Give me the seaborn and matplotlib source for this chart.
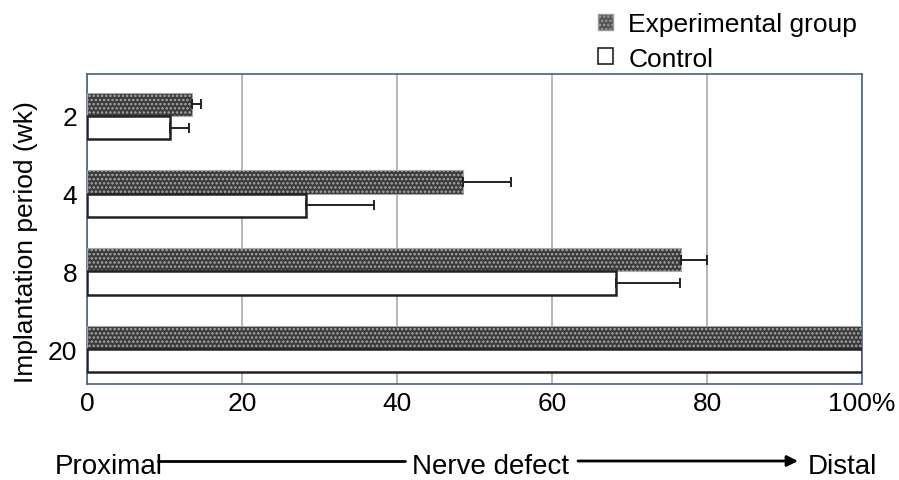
import numpy as np
import pandas as pd
import matplotlib
matplotlib.use("Agg")
import matplotlib.pyplot as plt
import seaborn as sns
from matplotlib.patches import Patch

# data
periods = ["2", "4", "8", "20"]
groups = ["Experimental group", "Control"]
exp_vals = [13.5, 48.5, 76.6, 100.0]
exp_err = [1.2, 6.2, 3.4, 0.0]
ctrl_vals = [10.7, 28.3, 68.3, 100.0]
ctrl_err = [2.5, 8.7, 8.2, 0.0]

df = pd.DataFrame({
    "period": periods * 2,
    "group": [groups[0]] * 4 + [groups[1]] * 4,
    "value": exp_vals + ctrl_vals,
})

sns.set_style("white")
plt.rcParams["font.family"] = ["Liberation Sans", "DejaVu Sans"]
plt.rcParams["text.color"] = "black"
plt.rcParams["xtick.color"] = "black"
plt.rcParams["ytick.color"] = "black"
plt.rcParams["axes.labelcolor"] = "black"
plt.rcParams["hatch.linewidth"] = 1.2

W, H = 899, 481
fig = plt.figure(figsize=(W / 100, H / 100), dpi=100)
ax = fig.add_axes([87 / W, 1 - 385 / H, 775 / W, 310 / H])

sns.barplot(data=df, y="period", x="value", hue="group", order=periods,
            hue_order=groups, orient="h", width=0.6, errorbar=None,
            palette=["#3a3a3a", "white"], ax=ax, legend=False, zorder=3)

n = len(periods)
for i, bar in enumerate(ax.patches[:2 * n]):
    if i < n:
        bar.set_facecolor("#3a3a3a")
        bar.set_edgecolor("#a8a8a8")
        bar.set_hatch("....")
        bar.set_linewidth(0.8)
    else:
        bar.set_facecolor("white")
        bar.set_edgecolor("#222222")
        bar.set_linewidth(1.8)

# one-sided error bars
exp_y = [b.get_y() + b.get_height() / 2 for b in ax.patches[:n]]
ctrl_y = [b.get_y() + b.get_height() / 2 for b in ax.patches[n:2 * n]]
for ys, vals, errs in [(exp_y, exp_vals, exp_err), (ctrl_y, ctrl_vals, ctrl_err)]:
    for y, v, e in zip(ys, vals, errs):
        if e > 0:
            ax.errorbar(v, y, xerr=[[0], [e]], fmt="none", ecolor="#222222",
                        elinewidth=1.4, capsize=3.5, capthick=1.4, zorder=4)

ax.set_xlim(0, 100)
ax.set_ylim(3.45, -0.54)
ax.set_xticks([0, 20, 40, 60, 80, 100])
ax.set_xticklabels(["0", "20", "40", "60", "80", "100%"])
ax.xaxis.grid(True, color="#aaaaaa", linewidth=1.2, zorder=0)
ax.set_axisbelow(True)
for s in ax.spines.values():
    s.set_color("#4a6080")
    s.set_linewidth(1.2)
ax.tick_params(axis="both", length=0, labelsize=19)
ax.tick_params(axis="x", pad=5)
ax.tick_params(axis="y", pad=7)
ax.set_xlabel("")
ax.set_ylabel("Implantation period (wk)", fontsize=19)
ax.yaxis.set_label_coords(-0.063, 0.46)

handles = [Patch(facecolor="#555555", edgecolor="#999999", hatch="...."),
           Patch(facecolor="white", edgecolor="#222222", linewidth=1.2)]
fig.legend(handles, groups, loc="upper left", bbox_to_anchor=(598 / W, 1 - 13 / H),
           frameon=False, fontsize=19, handlelength=0.55, handleheight=0.55,
           handletextpad=0.6, labelspacing=0.4, borderpad=0, borderaxespad=0)

# bottom axis annotation
base = 1 - 474 / H
fig.text(55 / W, base, "Proximal", fontsize=20, ha="left", va="baseline")
fig.text(490 / W, base, "Nerve defect", fontsize=20, ha="center", va="baseline")
fig.text(877 / W, base, "Distal", fontsize=20, ha="right", va="baseline")
ay = 1 - 462 / H
fig.add_artist(plt.Line2D([158 / W, 405 / W], [ay, ay], transform=fig.transFigure,
                          color="black", linewidth=2))
ax.annotate("", xy=(798 / W, ay), xytext=(578 / W, ay), xycoords="figure fraction",
            textcoords="figure fraction",
            arrowprops=dict(arrowstyle="-|>", color="black", lw=2, mutation_scale=16,
                            shrinkA=0, shrinkB=0))

fig.savefig("out.png", dpi=100)
